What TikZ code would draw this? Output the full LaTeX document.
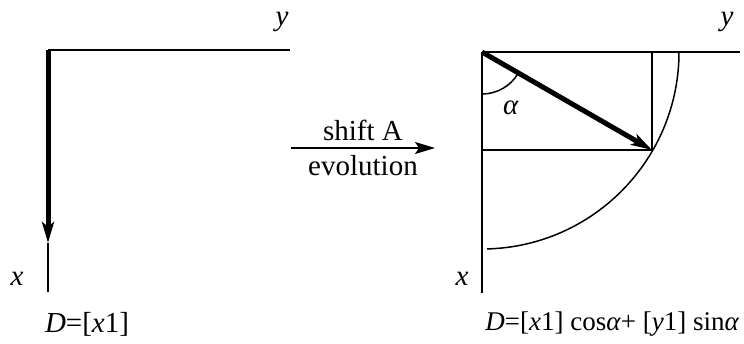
\documentclass[tikz,border=0pt]{standalone}
\usepackage{fontspec}
\setmainfont{Liberation Serif}
\usetikzlibrary{arrows.meta,calc,positioning}

\begin{document}
\begin{tikzpicture}[x=0.5pt,y=-0.5pt,>={Stealth[length=10.5pt,width=6pt,inset=2.5pt]},
  every node/.style={font=\fontsize{14.5}{17}\selectfont},
  axis/.style={line width=0.75pt},
  vec/.style={line width=2.5pt,->}]
  \useasboundingbox (0,0) rectangle (744,343);
  % before the shift
  \coordinate (o1) at (48,50);
  \coordinate (y1) at (290,50);
  \coordinate (t1) at (48,243);
  \coordinate (x1) at (48,292);
  \draw[axis] (o1) -- (y1);
  \draw[axis] (t1) -- (x1);
  \draw[vec] (o1) -- (t1);
  \node (ly1) at (282,22) {\textit{y}};
  \node (lx1) at (17,279) {\textit{x}};
  \node (d1) at (87,324) {\textit{D}=[\textit{x}1]};
  % shift
  \coordinate (s) at (291,148);
  \coordinate (e) at (435,148);
  \draw[axis,->,>={Stealth[length=10pt,width=6pt,inset=2pt]}] (s) -- node[above=0pt] {shift A} node[below=0pt] {evolution} (e);
  % after the shift
  \coordinate (o2) at (482,52);
  \coordinate (y2) at (740,52);
  \coordinate (x2) at (482,293);
  \coordinate (p) at (652,150);
  \draw[axis] (o2) -- (y2);
  \draw[axis] (o2) -- (x2);
  \draw[axis] (o2 -| p) -- (p) -- (o2 |- p);
  \draw[axis] ($(o2)+(197,0)$) arc[start angle=0,end angle=88.5,radius=197];
  \draw[axis] ($(o2)+(0,42)$) arc[start angle=90,end angle=30,radius=42];
  \draw[vec] (o2) -- (p);
  \node (al) at (511,108) {\textit{α}};
  \node (ly2) at (727,22) {\textit{y}};
  \node (lx2) at (462,279) {\textit{x}};
  \node[anchor=west,inner sep=0pt,font=\fontsize{13.5}{16}\selectfont] (d2) at (485,324) {\textit{D}=[\textit{x}1] cos\textit{α}+ [\textit{y}1] sin\textit{α}};
\end{tikzpicture}
\end{document}
